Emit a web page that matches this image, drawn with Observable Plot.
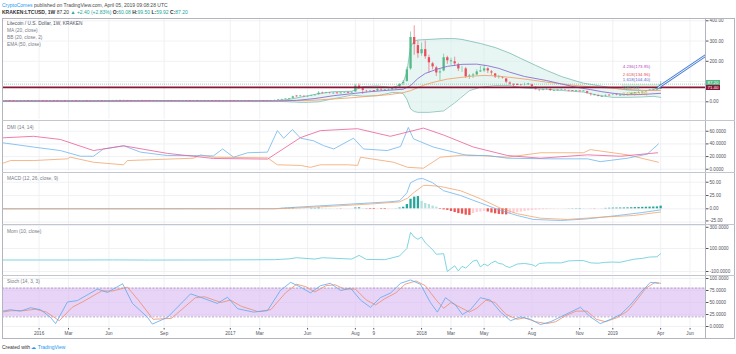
<!DOCTYPE html>
<html><head><meta charset="utf-8">
<script src="https://cdn.jsdelivr.net/npm/d3@7"></script>
<script src="https://cdn.jsdelivr.net/npm/@observablehq/plot@0.6"></script>
<style>
html,body{margin:0;padding:0;background:#fff}
#root{position:relative;width:736px;height:354px;overflow:hidden;background:#fff;font-family:"Liberation Sans",Arial,sans-serif}
.abs{position:absolute;white-space:nowrap;line-height:1}
.pane{position:absolute;left:0}
.pane svg{overflow:visible}
</style></head><body><div id="root"></div>
<script>
// ---------- DATA ----------
const firstWeek = "2015-10-26";   // Monday of first weekly bar
const firstOpen = 3.1;
const closes = [3.45,3.6,3.3,3.2,3.3,3.6,3.6,3.5,3.5,3.5, 3.5,3.3,3.2,3.5,3.4,3.3,3.4,3.2,3.2,3.3,
 3.2,3.2,3.3,3.2,3.3,3.7,3.8,3.6,4.1,4.3, 4.5,4.6,4.5,4.8,4.2,4.1,4.2,4.3,4.2,4.0,
 3.7,3.8,3.8,3.8,3.9,3.9,3.8,3.8,3.8,3.9, 3.9,3.8,3.9,3.8,3.9,3.9,3.9,3.8,3.7,3.6,
 4.2,4.4,4.0,3.8,3.8,3.8,3.9,3.7,3.8,3.8, 3.9,3.8,3.9,4.0,6.8,9.2,11,13.6,15,27,
 26,28,24,27,30,33,45,42,44,40, 42,41,42,45,44,46,80,67,54,50,
 53,52,63,56,56,62,62,72,88,98, 160,320,280,235,260,220,190,170,140,150,
 220,200,200,185,160,165,120,130,130,150, 150,165,150,140,120,122,115,95,85,84,
 83,80,86,86,73,60,56,58,63,53, 55,57,60,56,53,52,52,51,52,40,
 33,33,25,25,32,30,34,31,31,32, 33,42,42,45,47,55,58,60,60,87.2];
const highs = [3.9,4.9,3.7,3.4,3.4,3.7,3.9,3.8,3.6,3.7, 3.6,3.5,3.4,3.6,3.6,3.5,3.5,3.4,3.3,3.4,
 3.4,3.3,3.4,3.3,3.4,3.8,3.9,3.9,4.2,4.6, 4.7,5.1,4.9,5.8,4.9,4.4,4.4,4.5,4.4,4.3,
 4.1,3.9,3.9,3.9,4.0,4.0,4.0,3.9,3.9,4.0, 4.0,3.9,4.0,4.0,4.0,4.0,4.0,4.0,3.9,3.8,
 4.4,4.6,4.8,4.1,3.9,3.9,4.0,4.0,3.9,3.9, 4.1,4.0,4.0,4.1,9.0,10.5,11.8,14.8,16.5,28,
 30,32,31,29,32,35,50,48,47,46, 45,44,44,48,48,50,85,88,68,56,
 56,55,65,64,59,64,66,74,90,105, 170,345,375,300,290,300,230,195,175,160,
 235,225,215,220,190,175,170,135,140,158, 175,180,168,155,140,130,125,115,98,88,
 90,85,92,91,87,74,60,62,66,66, 57,60,63,61,57,54,53,53,55,52,
 42,37,34,27,35,34,38,38,33,33, 34,44,45,50,49,56,60,63,62,99.5];
const lows = [3.0,3.3,3.1,3.0,3.1,3.2,3.4,3.4,3.3,3.4, 3.4,3.1,3.0,3.1,3.3,3.2,3.2,3.1,3.0,3.1,
 3.1,3.1,3.1,3.1,3.2,3.3,3.6,3.5,3.6,4.0, 4.2,4.4,4.3,4.5,3.8,3.9,4.0,4.1,4.1,3.9,
 3.4,3.6,3.7,3.7,3.7,3.8,3.7,3.7,3.7,3.7, 3.8,3.7,3.7,3.7,3.7,3.8,3.8,3.7,3.6,3.5,
 3.6,4.0,3.6,3.6,3.7,3.7,3.7,3.6,3.7,3.7, 3.7,3.6,3.7,3.8,3.9,6.5,8.5,10.5,13,14.5,
 23,24,21,22,26,28,32,37,40,38, 37,39,40,41,42,43,46,62,36,44,
 48,49,51,52,51,53,57,59,70,80, 97,155,230,215,225,210,140,158,125,105,
 148,185,180,175,150,145,115,110,115,128, 145,145,140,130,115,112,112,90,82,73,
 80,77,78,83,70,58,50,54,57,51, 51,52,56,55,50,51,51,50,50,39,
 28,29,24,23,24,28,30,30,30,30, 30,32,40,42,43,45,54,57,57,59.92];

// overlay lines, knots as [week index, value]
const bbWeeks = [0,10,20,30,35,45,60,74,78,82,86,90,95,98,102,106,108,109,110,111,112,113,116,120,123,125,127,130,134,138,141,145,148,152,155,158,162,166,170,174,177,179];
const bbUpper = [4.2,3.9,3.6,4.6,5.4,4.6,4.3,4.3,12,26,40,50,52,75,78,70,82,95,145,270,300,305,308,312,312,308,300,288,268,240,214,180,155,125,108,92,80,68,58,55,58,82];
const bbLower = [2.9,3.1,3.0,2.8,3.3,3.4,3.4,3.4,0,-3,0,15,33,28,30,46,45,40,12,-35,-48,-52,-52,-45,-5,25,55,72,80,80,70,64,62,56,52,48,32,22,22,24,27,22];
const ma20 = [[0,3.4],[30,3.6],[40,4.3],[60,3.9],[75,4.2],[80,7],[85,16],[90,30],[95,40],[100,50],[105,57],[109,62],[111,80],[113,115],[115,140],[118,160],[121,175],[125,185],[129,186],[132,178],[135,165],[138,146],[142,125],[148,105],[152,88],[156,72],[160,60],[163,50],[166,42],[170,35],[174,36],[179,42]];
const ema50 = [[0,3.4],[60,3.9],[75,4.2],[80,5.5],[85,8],[90,14],[95,20],[100,28],[105,35],[109,45],[111,55],[113,70],[115,85],[118,100],[121,112],[125,121],[128,127],[131,130],[134,128],[138,121],[143,110],[148,97],[152,89],[156,80],[160,74],[164,69],[168,64],[172,59],[176,56],[179,56]];
const hLevel = 71.40;
const lastPrice = 87.20;
const trendLine = [[178.4,71.4],[191.2,228]];
const fibNames = ["4.236","2.618","1.618","1","0.618"];
const fibPrices = [173.95,134.96,104.40,85.53,73.85];
const fibColors = ["#b548c6","#e2505c","#5868cc","#26a69a","#e09a2a"];

// DMI
const dmiPlus = [[0.2,41.7],[8.5,35],[15.8,29.5],[21.3,20.5],[24.8,20.5],[27.5,32],[33,37],[37.6,27],[44.9,21.6],[52,21.6],[57.4,21],[59.9,32],[62.9,19],[66.7,26],[72.1,27],[74.8,61],[76.5,49],[78.9,62.7],[81.1,49],[84.6,45],[87.3,37.4],[90.1,32],[95.5,49],[98.2,32],[104.7,29.5],[108.3,36],[110.4,66],[111.8,48],[117.2,35],[126.5,21.6],[131.9,21.6],[137.4,17.4],[149.1,16.4],[159.1,16.4],[162.6,12],[170,17.4],[175.4,24],[178.4,40]];
const dmiMinus = [[0.2,9.5],[2.2,13.7],[8.5,13.7],[17.7,16.4],[18.5,19],[24.8,11],[33,7],[34,13.7],[52,17.4],[53.9,22.7],[57.4,19],[72.1,18],[74.8,7],[81.1,6],[83.8,3],[86.5,7],[93.9,7],[96.6,6],[97.4,19],[106.4,11],[110.2,3],[114.5,1.6],[119.1,19],[126.5,22.7],[137.4,19],[146.3,26],[158,26],[159.9,31],[170,22.7],[178.4,11]];
const dmiAdx = [[0.2,49.6],[8.5,52],[15.8,47],[24.8,29.5],[33,37],[44.9,25],[57.4,17],[72.1,16],[81.1,50],[86.5,61],[96.6,64],[105.5,52],[114.5,65],[120,54],[128.1,35],[137.4,21.6],[146.3,17.4],[159.1,22.7],[168.1,20.5],[178.2,26]];

// MACD
const macdLine = [[0,0],[74,0.2],[80,3],[85,5],[90,7],[95,9],[100,11],[105,13],[108,15],[110,30],[111,49],[113,56],[114.3,57],[117,49],[120,34],[124.6,25],[130,11],[135.5,-3],[140,-12.6],[144.4,-20],[151.8,-22],[159,-19],[167.3,-12.6],[174,-7],[179,-2]];
const macdSignal = [[0,0],[74,0.1],[80,1.5],[90,5],[100,9],[108,13],[110.2,20],[112,31],[114.5,44],[116,44],[119.1,42],[124.6,34],[130,19],[135.5,1],[140.1,-9.4],[146.3,-17.6],[153.6,-20],[162.6,-15.8],[171.6,-12.6],[179,-6]];
const macdHist = [0.1,0.2,0.1,0,-0.05,0,0.05,0.03,0,0, 0,-0.03,-0.05,0,0,-0.02,0,-0.03,-0.03,-0.02,
 -0.02,-0.02,0,0,0,0.05,0.06,0.04,0.08,0.1, 0.1,0.1,0.08,0.1,0,-0.02,-0.02,0,-0.02,-0.04,
 -0.08,-0.06,-0.05,-0.04,-0.02,0,0,0,0,0, 0,0,0,0,0,0,0,0,-0.02,-0.03,
 0.05,0.08,0.03,0,-0.02,-0.03,-0.02,-0.03,-0.02,-0.02, 0,0,0,0,0.3,0.6,0.8,1,1,1.8,
 1.5,1.3,0.8,0.7,0.8,0.8,1.5,1.2,1.0,0.5, 0.2,-0.2,-0.4,-0.3,-0.3,-0.2,1.5,1.8,0.5,-0.5,
 -1,-1.2,-0.6,-0.9,-1.1,-0.8,-0.5,0.3,1.5,3, 8,18,22,23,14,10,8,5,3,-1,
 -2,-3,-5,-7,-9,-10,-12,-12.5,-9,-7, -6,-5,-6,-8,-9.5,-10.5,-11,-11.5,-10,-8.5,
 -7,-6,-5,-4,-3.2,-2.6,-2,-1.6,-1.2,-0.9, -0.6,-0.3,-0.1,0.1,0.3,0.4,0.5,0.6,0.5,0.3,
 -0.2,-0.4,-0.3,0.2,0.8,1,1.3,1.4,1.5,1.6, 1.8,2,2.3,2.6,2.8,3,3.2,3.4,3.6,5];

// Momentum
const mom = [[0,0],[10,0],[20,0],[30,1],[40,-0.5],[60,0.5],[74,3],[78,10],[80,20],[85,8],[87,20],[95,8],[97,40],[99,5],[104,3],[108,35],[110,100],[111,240],[112,200],[113,180],[114,200],[115,150],[116,120],[117,90],[118,50],[120,55],[121,-100],[122,-75],[123,-50],[124,-95],[125,-55],[126,-70],[127,-40],[128,-10],[129,0],[130,-60],[131,-35],[132,-50],[133,-25],[134,-10],[135,-30],[136,-35],[137,-55],[138,-65],[139,-50],[140,-35],[142,-30],[144,-40],[145,-55],[146,-30],[148,-25],[150,-25],[152,-25],[154,-8],[156,-5],[158,-5],[159,-15],[160,-25],[162,-28],[164,-20],[166,-18],[168,-20],[170,-5],[172,8],[174,14],[176,26],[178,28],[179,55]];

// Stochastic
const stochK = [[0.2,32],[2.2,35],[4.9,32],[7.7,39],[10.4,35],[13.1,19],[14.5,6],[17.7,51],[20.4,54],[25.9,78],[28.6,71],[32.7,89],[35.4,48],[39.5,19],[40.8,5],[44.9,19],[51.2,68],[53.9,61],[58.5,48],[61.2,61],[64,37],[68.3,30],[72.1,33],[75.6,75],[78.4,92],[81.1,82],[83.8,70],[86.5,85],[89.2,90],[92,75],[94.7,80],[97.4,55],[100.1,40],[102.8,60],[105.6,70],[108.3,90],[111,97],[113.7,88],[116.4,50],[118.3,30],[120.5,60],[123.2,45],[125.1,25],[127.3,35],[130,60],[132.7,55],[135.5,30],[138.2,12],[140.9,20],[143.6,15],[146.3,4],[149.1,10],[151.8,20],[154.5,30],[157.2,40],[159.9,20],[162.6,6],[165.4,15],[168.1,25],[170.8,45],[173.5,70],[176.2,92],[178.4,90]];
const stochD = [[0,30],[2.5,33],[6,33],[9,36],[12,30],[15.5,12],[19,40],[22,52],[27,74],[30,74],[34,82],[37,55],[41,15],[46,17],[52.5,60],[55,62],[59.5,50],[62,55],[65,42],[69.5,31],[73,35],[77,70],[80,88],[82.5,83],[85,72],[88,85],[90.5,87],[93,78],[96,78],[99,55],[101.5,45],[104,58],[107,70],[109.5,88],[112.5,95],[115,85],[118,55],[120,38],[122,50],[124.5,40],[127,30],[129,38],[131.5,55],[134,50],[137,25],[140,15],[142,18],[145,10],[148,6],[150.5,10],[153,22],[156,32],[159,32],[161.5,15],[164,10],[167,18],[170,32],[172.5,55],[175,80],[177.5,92],[179,90]];

// time axis
const xTickDates = ["2016-01-04","2016-02-29","2016-05-16","2016-08-29","2017-01-02","2017-02-27","2017-05-29","2017-08-28","2017-10-02","2018-01-01","2018-02-26","2018-04-30","2018-07-30","2018-10-29","2018-12-31","2019-04-01","2019-05-27"];
const xTickLabels = ["2016","Mar","Jun","Sep","2017","Mar","Jun","Aug","9","2018","Mar","May","Aug","Nov","2019","Apr","Jun"];

// ---------- HELPERS ----------
const t0 = Date.parse(firstWeek + "T00:00:00Z");
const wk = w => new Date(t0 + w * 7 * 864e5);
const xDomain = [wk(0.054), wk(191.2)];
const FONT = "'Liberation Sans', Arial, sans-serif";
const AX = "#50535e";
const root = document.getElementById("root");

function addPlot(top, h, yDomain, marks, extra = {}) {
  const svg = Plot.plot({
    width: 736, height: h, marginLeft: 2, marginRight: 31, marginTop: 0, marginBottom: extra.mb || 0,
    x: {type: "utc", domain: xDomain, axis: null, label: null},
    y: {domain: yDomain, axis: null, label: null},
    style: {background: "transparent", fontFamily: FONT, overflow: "visible"},
    marks
  });
  const d = document.createElement("div");
  d.className = "pane"; d.style.top = top + "px";
  d.appendChild(svg); root.appendChild(d);
}
const xTicks = xTickDates.map(s => new Date(s + "T00:00:00Z"));
const vgrid = () => Plot.ruleX(xTicks, {stroke: "#eceef3", strokeWidth: 0.8, clip: true});
const hgrid = t => Plot.ruleY(t, {stroke: "#eceef3", strokeWidth: 0.8});
const rightAxis = (t, fmt, dy = 0) => Plot.axisY(t, {anchor: "right", label: null, tickSize: 2.5, tickPadding: 1.5, fontSize: 4.6, tickFormat: fmt, color: AX, textAnchor: "start", dy});
const kline = (arr, stroke, sw = 0.8) => Plot.line(arr, {x: d => wk(d[0]), y: d => d[1], stroke, strokeWidth: sw, clip: true});

// ---------- MAIN PANE ----------
const mainDomain = [-87.4, 406.4], mainH = 100;
const perPx = (mainDomain[1] - mainDomain[0]) / mainH;   // price units per pixel
const candles = closes.map((c, i) => ({date: wk(i), open: i ? closes[i - 1] : firstOpen, close: c, high: highs[i], low: lows[i]}));
const candleColor = d => d.close >= d.open ? "#53b987" : "#eb4d5c";
const bbData = bbWeeks.map((w, i) => ({date: wk(w), hi: bbUpper[i], lo: bbLower[i]}));
const labelShiftPx = [0, 0, -1.2, 2.6, 7.2];  // spread the crowded level labels apart
const fib = fibNames.map((n, i) => ({n, p: fibPrices[i], c: fibColors[i], ly: fibPrices[i] - labelShiftPx[i] * perPx}));
addPlot(19, mainH, mainDomain, [
  vgrid(), hgrid([0, 100, 200, 300, 400]),
  Plot.areaY(bbData, {x: "date", y1: "lo", y2: "hi", fill: "#d3eeea", fillOpacity: 0.55, clip: true}),
  Plot.line(bbData, {x: "date", y: "hi", stroke: "#7dbdb3", strokeWidth: 0.8, clip: true}),
  Plot.line(bbData, {x: "date", y: "lo", stroke: "#7dbdb3", strokeWidth: 0.8, clip: true}),
  Plot.rectY([0], {x1: wk(168.5), x2: wk(178.6), y1: fibPrices[4], y2: fibPrices[3], fill: "#a5d6a7", fillOpacity: 0.35}),
  Plot.ruleY([lastPrice], {stroke: "#53b987", strokeWidth: 0.6, strokeDasharray: "1,1"}),
  Plot.ruleX(candles, {x: "date", y1: "low", y2: "high", stroke: candleColor, strokeWidth: 0.6, clip: true}),
  Plot.ruleX(candles, {x: "date", y1: d => Math.min(d.open, d.close), y2: d => Math.max(d.open, d.close), stroke: candleColor, strokeWidth: 2.3, insetTop: -0.5, insetBottom: -0.5, clip: true}),
  kline(ema50, "#f4a36b", 0.9),
  kline(ma20, "#8b6fd0", 0.9),
  Plot.ruleY([hLevel], {stroke: "#8a1538", strokeWidth: 1.8}),
  Plot.line(trendLine, {x: d => wk(d[0]), y: d => d[1], stroke: "#4a7fd6", strokeWidth: 2.6, clip: true}),
  Plot.line(trendLine, {x: d => wk(d[0]), y: d => d[1], stroke: "#ffffff", strokeWidth: 0.9, clip: true}),
  Plot.text(fib, {x: wk(168.7), y: "ly", text: d => `${d.n}(${d.p.toFixed(2)})`, fill: "c", fontSize: 4.4, textAnchor: "start"}),
  rightAxis([0, 200, 300, 400], d => d.toFixed(2)),
]);

// ---------- DMI ----------
addPlot(121, 50, [-3.6, 75.4], [
  vgrid(), hgrid([0, 20, 40, 60]),
  kline(dmiMinus, "#f3a46c"), kline(dmiPlus, "#6fb5ee"), kline(dmiAdx, "#ec5d96"),
  rightAxis([0, 20, 40, 60], d => d.toFixed(4)),
]);

// ---------- MACD ----------
const hist = macdHist.map((v, i) => {
  const p = i ? macdHist[i - 1] : v;
  const c = v >= 0 ? (v >= p ? "#26a69a" : "#b2dfdb") : (v < p ? "#ef5350" : "#ffcdd2");
  return {date: wk(i), v, c};
});
addPlot(173, 51, [-29.5, 66.4], [
  vgrid(), hgrid([-25, 0, 25, 50]),
  Plot.ruleX(hist, {x: "date", y1: 0, y2: "v", stroke: "c", strokeWidth: 2.3, clip: true}),
  kline(macdLine, "#6fb5ee"), kline(macdSignal, "#f3a46c"),
  rightAxis([0, 25, 50], d => d.toFixed(2)),
  rightAxis([-25], d => d.toFixed(2), -1.2),
]);

// ---------- MOM ----------
addPlot(225, 49, [-126, 300], [
  vgrid(), hgrid([-100, 100, 300]),
  kline(mom, "#6fd0dc", 0.9),
  rightAxis([-100, 100], d => d.toFixed(4)),
  rightAxis([300], d => d.toFixed(4), 1.8),
]);

// ---------- STOCH ----------
addPlot(276, 63, [-4.2, 104.2], [
  vgrid(), hgrid([0, 25, 50, 75, 100]),
  Plot.rectY([0], {x1: xDomain[0], x2: xDomain[1], y1: 20, y2: 80, fill: "#dcbdf3", fillOpacity: 0.65}),
  Plot.ruleY([20, 80], {stroke: "#9a8aa8", strokeWidth: 0.7, strokeDasharray: "2,1.5"}),
  kline(stochD, "#f08a6a"), kline(stochK, "#5aa9ee"),
  rightAxis([0, 25, 50, 75, 100], d => d.toFixed(4)),
  Plot.axisX(xTicks, {anchor: "bottom", label: null, tickSize: 1.5, tickPadding: 2, fontSize: 4.6, color: AX,
    tickFormat: d => xTickLabels[xTicks.findIndex(t => +t === +d)]}),
], {mb: 11});

// ---------- FRAME, SEPARATORS, TEXT ----------
function box(css) { const d = document.createElement("div"); d.className = "abs"; d.style.cssText += css; root.appendChild(d); return d; }
box("left:2px;top:18px;width:733px;height:321px;border:1px solid #b2b5be;box-sizing:border-box;");
box("left:705px;top:18px;width:1px;height:321px;background:#b2b5be;");
for (const y of [119.5, 171.5, 223.8, 274.5]) box(`left:2px;top:${y}px;width:733px;height:1.6px;background:#c3c6ce;`);

const T = (x, y, html, css = "") => { const d = box(`left:${x}px;top:${y}px;font-size:4.8px;color:#787b86;${css}`); d.innerHTML = html; return d; };
T(2, 3, '<span style="color:#2196f3">CryptoComes</span> published on TradingView.com, April 05, 2019 09:08:28 UTC', "color:#4a4a4a;font-size:5px");
T(2, 10, '<b>KRAKEN:LTCUSD, 1W</b> 87.20 <span style="color:#26a69a">&#9650; +2.40 (+2.83%)</span> <b>O:</b><span style="color:#26a69a">60.08</span> <b>H:</b><span style="color:#26a69a">99.50</span> <b>L:</b><span style="color:#26a69a">59.92</span> <b>C:</b><span style="color:#26a69a">87.20</span>', "color:#333;font-size:5px");
T(7, 22, "Litecoin / U.S. Dollar, 1W, KRAKEN", "color:#4c525e");
T(7, 29, "MA (20, close)");
T(7, 36, "BB (20, close, 2)");
T(7, 43, "EMA (50, close)");
T(7, 126, "DMI (14, 14)");
T(7, 177, "MACD (12, 26, close, 9)");
T(7, 229.5, "Mom (10, close)");
T(7, 280, "Stoch (14, 3, 3)");
// price labels
box(`left:706px;top:80px;width:14px;height:5px;background:#53b987;color:#fff;font-size:4.4px;text-align:center;line-height:5px`).textContent = lastPrice.toFixed(2);
box(`left:706px;top:84.5px;width:14px;height:5px;background:#8a1538;color:#fff;font-size:4.4px;text-align:center;line-height:5px`).textContent = hLevel.toFixed(2);
// footer
T(2, 344.5, 'Created with <span style="color:#2196f3">&#9729; TradingView</span>', "color:#333;font-size:5px");
</script></body></html>
